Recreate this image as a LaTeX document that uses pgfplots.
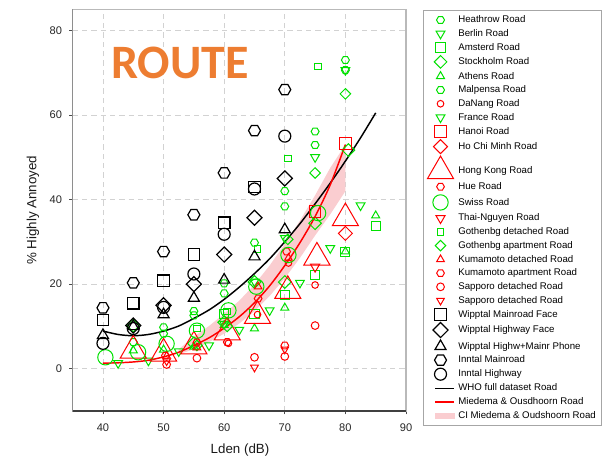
\documentclass[border=0pt]{standalone}
\usepackage{fontspec}
\setmainfont{Liberation Sans}
\newfontfamily\calibri{Carlito}
\usepackage{pgfplots}
\pgfplotsset{compat=1.18}
\definecolor{gr}{RGB}{0,225,0}
\definecolor{rd}{RGB}{255,0,0}
\definecolor{ci}{RGB}{250,205,208}
\definecolor{org}{RGB}{237,125,49}
\pgfdeclareplotmark{hexagon}{%
  \pgfpathmoveto{\pgfpointpolar{0}{\pgfplotmarksize}}%
  \pgfpathlineto{\pgfpointpolar{60}{\pgfplotmarksize}}%
  \pgfpathlineto{\pgfpointpolar{120}{\pgfplotmarksize}}%
  \pgfpathlineto{\pgfpointpolar{180}{\pgfplotmarksize}}%
  \pgfpathlineto{\pgfpointpolar{240}{\pgfplotmarksize}}%
  \pgfpathlineto{\pgfpointpolar{300}{\pgfplotmarksize}}%
  \pgfpathclose\pgfusepathqstroke}
\begin{document}
\begin{tikzpicture}
\useasboundingbox (0,0) rectangle (451.5pt,342.75pt);
\begin{axis}[
  at={(54.5pt,34.5pt)}, anchor=south west,
  scale only axis, width=250pt, height=301.3pt,
  xmin=35, xmax=90, ymin=-10, ymax=85,
  xtick={40,50,...,90}, ytick={0,20,...,80},
  xtick pos=left, ytick pos=left,
  grid=major, major grid style={gray!35, dash pattern=on 4pt off 3pt, line width=0.6pt},
  axis line style={gray!55, line width=0.8pt},
  tick align=outside, major tick length=2.5pt, tick style={black!70, line width=0.6pt},
  /pgf/number format/assume math mode=true,
  ticklabel style={font=\fontsize{8.3}{10}\selectfont, text=black!85},
  xticklabel style={yshift=-3.5pt},
  yticklabel style={xshift=-2pt},
  xlabel={Lden (dB)}, ylabel={\% Highly Annoyed},
  label style={font=\fontsize{10}{12}\selectfont, text=black!90},
  xlabel style={at={(axis description cs:0.502,-0.097)}, anchor=center},
  ylabel style={at={(axis description cs:-0.119,0.5)}, anchor=center},
  legend cell align=left,
  legend style={at={(1.050,0.998)}, anchor=north west, draw=gray!70, fill=white,
    font=\fontsize{7.25}{8.5}\selectfont, inner xsep=3.4pt, inner ysep=3pt,
    row sep=1.8pt, /tikz/column sep=1.8pt,
    nodes={inner sep=1pt, text height=5.3pt, text depth=1.2pt}},
  legend image code/.code={\draw[mark repeat=2,mark phase=2,#1] plot coordinates {(-4pt,0pt) (0pt,0pt) (10pt,0pt)};},
]
% CI band (drawn first)
\addplot[fill=ci, draw=none, forget plot] coordinates {
 (52.5,3.4) (55,4.6) (57.5,6.3) (60,8.3) (62.5,10.7) (65,13.6) (67.5,17.2) (70,21.4) (72.5,26.2) (75,31.5) (77.5,36.5) (80,42.0)
 (80,53.0) (77.5,47.5) (75,41.0) (72.5,35.0) (70,29.5) (67.5,24.4) (65,19.9) (62.5,16.1) (60,13.0) (57.5,10.1) (55,7.6) (52.5,4.6)};
% Heathrow
\addplot[only marks, color=gr, line width=0.75pt, mark=hexagon, mark size=3pt] coordinates {
 (45,6.3) (50,9.8) (55,13.6) (60,20.2) (65,29.8) (70,42.0) (75,56.1) (80,73.0)};
\addlegendentry{Heathrow Road}
% Berlin
\addplot[only marks, color=gr, line width=0.75pt, mark=triangle, mark size=3.8pt, mark options={rotate=180}] coordinates {
 (60,10.6) (65,20.6) (70,30.9) (75,50.0) (80,70.6)};
\addlegendentry{Berlin Road}
% Amsterd
\addplot[only marks, color=gr, line width=0.75pt, mark=square, mark size=3.4pt] coordinates {
 (60,13.0) (65,13.0) (70,17.4) (75,22.1) (80,27.7) (85,33.8)};
\addlegendentry{Amsterd Road}
% Stockholm
\addplot[only marks, color=gr, line width=0.75pt, mark=square, mark size=3.36pt, mark options={rotate=45}] coordinates {
 (45,10.2) (55,6.0) (60,11.0) (65,20.5) (70,20.5) (75,34.4) (80.5,51.7)};
\addlegendentry{Stockholm Road}
% Athens
\addplot[only marks, color=gr, line width=0.75pt, mark=triangle, mark size=3.5pt] coordinates {
 (45,4.3) (50,4.5) (55,5.2) (60,10.3) (65,9.5) (70,14.4) (80,27.7) (85,36.2)};
\addlegendentry{Athens Road}
% Malpensa
\addplot[only marks, color=gr, line width=0.75pt, mark=hexagon, mark size=3pt] coordinates {
 (50,8.3) (55,12.6) (60,17.8) (70,38.4) (75,52.9) (80,70.6)};
\addlegendentry{Malpensa Road}
% DaNang
\addplot[only marks, color=rd, line width=0.75pt, mark=o, mark size=2.5pt] coordinates {
 (60.7,6.0) (65.5,12.8) (70.6,25.0) (75,19.8)};
\addlegendentry{DaNang Road}
% France
\addplot[only marks, color=gr, line width=0.75pt, mark=triangle, mark size=3.8pt, mark options={rotate=180}] coordinates {
 (42.5,1.3) (47.5,1.9) (52.5,4.1) (57.5,5.5) (62.5,9.2) (67.5,13.8) (72.5,20.3) (77.5,28.5) (82.5,38.6)};
\addlegendentry{France Road}
% Hanoi
\addplot[only marks, color=rd, line width=0.75pt, mark=square, mark size=4.4pt] coordinates {
 (75,37.1) (80,53.3)};
\addlegendentry{Hanoi Road}
% Ho Chi Minh
\addplot[only marks, color=rd, line width=0.75pt, mark=square, mark size=3.7pt, mark options={rotate=45}] coordinates {
 (80,32.0)};
\addlegendentry{Ho Chi Minh Road}
% Hong Kong
\addplot[only marks, color=rd, line width=0.75pt, mark=triangle, mark size=11.3pt] coordinates {
 (45,4.3) (50,3.6) (55,5.3) (60.5,8.6) (65.5,12.5) (70.5,18.4) (75.3,26.3) (80,35.6)};
\addlegendentry{Hong Kong Road}
% Hue
\addplot[only marks, color=rd, line width=0.75pt, mark=hexagon, mark size=2.9pt] coordinates {
 (65.6,16.6) (70.3,27.7)};
\addlegendentry{Hue Road}
% Swiss
\addplot[only marks, color=gr, line width=0.75pt, mark=o, mark size=5.75pt] coordinates {
 (40.4,2.7) (45.8,3.9) (50.5,5.9) (55.5,9.0) (60.7,13.8) (65.3,19.4) (70.6,26.9) (75.5,36.8)};
\addlegendentry{Swiss Road}
% Thai-Nguyen
\addplot[only marks, color=rd, line width=0.75pt, mark=triangle, mark size=4pt, mark options={rotate=180}] coordinates {
 (75,24.1)};
\addlegendentry{Thai-Nguyen Road}
% Gothenbg detached
\addplot[only marks, color=gr, line width=0.75pt, mark=square, mark size=2.5pt] coordinates {
 (55.5,9.5) (60.5,13.5) (65.5,28.3) (70.5,49.7) (75.5,71.5)};
\addlegendentry{Gothenbg detached Road}
% Gothenbg apartment
\addplot[only marks, color=gr, line width=0.75pt, mark=square, mark size=2.8pt, mark options={rotate=45}] coordinates {
 (55.5,5.5) (60.5,10.0) (70.5,30.6) (75,46.3) (80,65.0)};
\addlegendentry{Gothenbg apartment Road}
% Kumamoto detached
\addplot[only marks, color=rd, line width=0.75pt, mark=triangle, mark size=3.3pt] coordinates {
 (50.5,3.0) (55.5,5.0) (65.6,19.4) (70.6,26.2)};
\addlegendentry{Kumamoto detached Road}
% Kumamoto apartment
\addplot[only marks, color=rd, line width=0.75pt, mark=hexagon, mark size=2.9pt] coordinates {
 (50.3,3.1) (55.5,6.2) (60.5,6.3) (70,5.5)};
\addlegendentry{Kumamoto apartment Road}
% Sapporo detached (circle)
\addplot[only marks, color=rd, line width=0.75pt, mark=o, mark size=2.9pt] coordinates {
 (50.5,1.0) (55.5,2.5) (65,2.7) (70,2.9) (75,10.2)};
\addlegendentry{Sapporo detached Road}
% Sapporo detached (triangle)
\addplot[only marks, color=rd, line width=0.75pt, mark=triangle, mark size=3.3pt, mark options={rotate=180}] coordinates {
 (50.5,1.8) (65,0.3) (70,4.6)};
\addlegendentry{Sapporo detached Road}
% Wipptal Mainroad Face
\addplot[only marks, color=black, line width=0.9pt, mark=square, mark size=4.3pt] coordinates {
 (40,11.5) (45,15.5) (50,20.8) (55,27.0) (60,34.5) (65,43.0)};
\addlegendentry{Wipptal Mainroad Face}
% Wipptal Highway Face
\addplot[only marks, color=black, line width=0.9pt, mark=square, mark size=4pt, mark options={rotate=45}] coordinates {
 (45,10.2) (50,15.0) (55,20.0) (60,27.0) (65,35.7) (70,45.0)};
\addlegendentry{Wipptal Highway Face}
% Wipptal Highw+Mainr Phone
\addplot[only marks, color=black, line width=0.9pt, mark=triangle, mark size=4.8pt] coordinates {
 (40,7.9) (45,10.0) (50,12.8) (55,16.7) (60,21.0) (65,26.5) (70,32.9)};
\addlegendentry{Wipptal Highw+Mainr Phone}
% Inntal Mainroad
\addplot[only marks, color=black, line width=0.9pt, mark=hexagon, mark size=4.5pt] coordinates {
 (40,14.4) (45,20.3) (50,27.7) (55,36.4) (60,46.3) (65,56.3) (70,66.0)};
\addlegendentry{Inntal Mainroad}
% Inntal Highway
\addplot[only marks, color=black, line width=0.9pt, mark=o, mark size=4.5pt] coordinates {
 (40,6.0) (45,9.5) (50,14.5) (55,22.4) (60,31.8) (65,42.5) (70,55.0)};
\addlegendentry{Inntal Highway}
% WHO curve
\addplot[black, line width=1.1pt, smooth, no marks] coordinates {
 (40,8.9) (42.5,8.1) (45,7.8) (47.5,8.1) (50,8.9) (52.5,10.1) (55,11.9) (57.5,13.9) (60,16.4) (62.5,19.3) (65,22.5) (67.5,26.0) (70,30.0) (72.5,34.3) (75,39.0) (77.5,43.9) (80,49.1) (82.5,54.6) (85,60.5)};
\addlegendentry{WHO full dataset Road}
% Miedema curve
\addplot[rd, line width=1.1pt, smooth, no marks] coordinates {
 (40,1.3) (42.5,1.4) (45,1.6) (47.5,2.0) (50,2.8) (52.5,3.9) (55,5.5) (57.5,7.3) (60,9.6) (62.5,12.3) (65,15.6) (67.5,19.6) (70,24.4) (72.5,29.8) (75,36.0) (77.5,43.5) (80,53.0)};
\addlegendentry{Miedema \& Ousdhoorn Road}
\addlegendimage{legend image code/.code={\fill[ci] (-4pt,-1.9pt) rectangle (10pt,1.9pt);}}
\addlegendentry{CI Miedema \& Oudshoorn Road}
\node[font=\calibri\bfseries\fontsize{36}{40}\selectfont, text=org] at (axis cs:52.7,72.2) {ROUTE};
\draw[black!75, line width=0.9pt] (rel axis cs:0,1) -- (rel axis cs:0,0) -- (rel axis cs:1,0);
\end{axis}
\end{tikzpicture}
\end{document}
